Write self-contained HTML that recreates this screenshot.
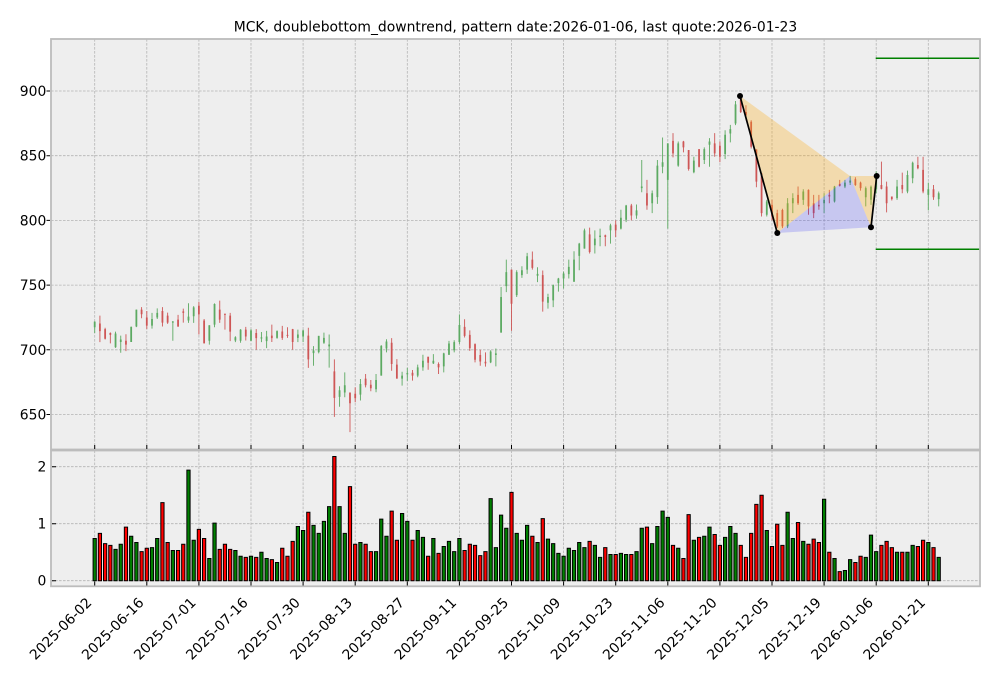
<!DOCTYPE html>
<html><head><meta charset="utf-8"><style>
html,body{margin:0;padding:0;background:#fff;}
svg{display:block;font-family:"DejaVu Sans","Liberation Sans",sans-serif;}
.ns{vector-effect:non-scaling-stroke;}
</style></head><body>
<svg width="1001" height="678" viewBox="0 0 1001 678" xmlns="http://www.w3.org/2000/svg">
<rect x="0" y="0" width="1001" height="678" fill="#fff"/>
<text x="515.5" y="31.5" font-size="13.9" text-anchor="middle" fill="#000">MCK, doublebottom_downtrend, pattern date:2026-01-06, last quote:2026-01-23</text>
<!-- axes backgrounds -->
<rect x="51" y="39" width="929" height="410.5" fill="#eeeeee"/>
<rect x="51" y="450.5" width="929" height="135.8" fill="#eeeeee"/>
<!-- grid -->
<g stroke="#b4b4b4" stroke-width="0.8" stroke-dasharray="2.6,1.4" fill="none">
<path d="M94.7 39V449.5M146.8 39V449.5M198.9 39V449.5M251 39V449.5M303.1 39V449.5M355.2 39V449.5M407.3 39V449.5M459.4 39V449.5M511.5 39V449.5M563.6 39V449.5M615.7 39V449.5M667.8 39V449.5M719.9 39V449.5M772 39V449.5M824.1 39V449.5M876.2 39V449.5M928.3 39V449.5"/>
<path d="M51 414.5H980M51 349.8H980M51 285.1H980M51 220.4H980M51 155.7H980M51 91H980"/>
<path d="M94.7 450.5V586.3M146.8 450.5V586.3M198.9 450.5V586.3M251 450.5V586.3M303.1 450.5V586.3M355.2 450.5V586.3M407.3 450.5V586.3M459.4 450.5V586.3M511.5 450.5V586.3M563.6 450.5V586.3M615.7 450.5V586.3M667.8 450.5V586.3M719.9 450.5V586.3M772 450.5V586.3M824.1 450.5V586.3M876.2 450.5V586.3M928.3 450.5V586.3"/>
<path d="M51 580.7H980M51 523.7H980M51 466.7H980"/>
</g>
<!-- candles -->
<g transform="matrix(5.21,0,0,-1.294,94.7,1255.6)" fill="none" stroke-linecap="butt">
<g stroke="rgb(92,170,98)">
<path class="ns" stroke-width="0.9" d="M0 713V722M4 701.5V714M5 697.7V711M7 706V718M8 717.5V731M11 716.4V728.5M12 723.8V732M15 707V722.3M18 720.8V736M19 720.8V733.8M22 704V719M23 717.4V735.9M27 705.9V710.5M28 705.4V716M30 706.7V716M32 705.9V713.8M33 701.3V714.6M35 708.5V715M39 705.9V715.6M40 705.9V715.6M42 687.7V702.8M43 697.2V710.8M44 704.6V713.3M45 686.2V711.8M47 656V671.8M48 663.3V682.6M51 660.8V677.4M54 667.2V681.3M55 680V703.6M56 698V708.2M59 672.3V683M60 676V686M62 678.8V688.5M63 683.8V696.2M65 689V696.7M67 682.6V697.7M68 696V706.9M69 698V707.4M70 704.6V727.4M76 689.7V699.7M77 687.2V701M78 713.3V748.5M79 744.6V769.7M81 740.8V761.5M82 755.6V764.6M83 758.7V774.9M85 752.3V763.8M87 731.8V743.3M88 733V750.5M89 745V755.6M90 747.4V760.3M91 755.1V769.7M92 752.6V776.2M93 761.5V782.6M94 778.2V793.6M96 774.4V792.3M97 780V793.6M99 782.1V797.4M101 793V808.2M102 798.7V812M104 801.3V812.3M105 821.8V846.7M107 805.6V823.1M108 812.8V846.7M109 836.4V864.1M110 793.6V859.5M112 841.5V861M115 836.4V849.2M117 843.6V856.4M118 841.5V863.6M121 847.4V869.7M122 860.3V873.8M123 873.6V892.3M129 803V815.9M133 794V817.2M134 805.6V821M136 812V824.1M140 805.6V821M142 813.8V826.7M144 824.9V831.3M145 827.4V834.4M148 810.8V826.2M149 812V827M150 821V838M154 815.9V831.3M156 821V838.5M157 828.7V845.4M160 807.7V829.2M162 810.8V822.3"/>
<path class="ns" stroke-width="1.8" d="M0 717.4V721.8M4 702V712.6M5 706V708M7 706V717.7M8 718V731M11 718.7V723.8M12 725V728.5M15 721V721.9M18 722.6V725.6M19 725.9V732.8M22 707V719M23 719.5V735.4M27 707.2V709.7M28 707V715.6M30 707V715M32 708.7V709.6M33 706.7V710.3M35 709.2V714.4M39 709.2V711.8M40 710.3V714.9M42 697.4V699.5M43 698.2V710.8M44 705.4V709.2M45 702.6V704.1M47 663.6V668.7M48 667V672.6M51 665.4V673.6M54 669.5V676.7M55 680V703M56 701V706.4M59 677.7V680M60 681V682M62 680V686.4M63 686.4V691.5M65 689.5V691.5M67 687.2V697.2M68 696.2V704.9M69 699.7V705.9M70 706V719.2M76 690.3V698.7M77 696V697.2M78 713.3V740.8M79 749.2V760M81 742.3V760M82 757.7V761.5M83 762V772.3M85 757.2V758.7M87 736.4V740.8M88 738.2V750M89 751.5V755.1M90 755.1V759M91 758.5V764.1M92 752.6V769.7M93 772.6V782.1M94 778.2V792.3M96 780.8V785.9M97 787.2V788.2M99 792.3V796.2M101 793.6V802M102 800.5V811.5M104 803.8V807.7M105 824.9V826.2M107 813.3V821M108 818V842.3M109 841.5V844.9M110 831.3V859.5M112 842.3V859.5M115 837.2V846.2M117 846.7V855.1M118 858.5V861M121 851.3V866.2M122 867.2V870.5M123 874.9V889.7M129 804.4V814.6M133 795.4V813.3M134 813.3V817.2M136 815.9V822.3M140 813.3V815.9M142 814.6V826.2M144 826.2V829.2M145 829.2V830.8M148 817.9V824.9M149 816V826M150 824V833M154 817.2V826.2M156 822.3V835.1M157 832.6V844.6M160 819.7V824.1M162 816.4V821"/>
</g>
<g stroke="rgb(206,86,86)">
<path class="ns" stroke-width="0.9" d="M1 705.9V726.4M2 708V717M3 705V713.5M6 699V712M9 724.4V733M10 716V730M13 718V733M14 720V728.7M16 717.7V727M17 721V731.8M20 711.8V737M21 705V723.8M24 720.8V738M25 715.6V728M26 706.7V728.5M29 707.2V717.7M31 700V716M34 706V719.5M36 707.7V718.5M37 709.2V717.4M38 700V716.2M41 686V717M46 648.2V692.6M49 636.4V667M50 659.5V671M52 671V681.3M53 668V676.7M57 683.8V709M58 677.7V692.8M61 676.2V684.4M64 684.6V694.6M66 681.3V690.3M71 709.5V723.6M72 699.2V715M73 690.3V705M74 687.7V700M75 687V698M80 714.6V762M84 762V776M86 729.5V761.3M95 774.4V794.4M98 780V789M100 787.2V800M103 800V812.8M106 808.2V831.3M111 848.7V867.4M113 852.6V861.5M114 838.5V854.4M116 841V855.1M119 849.2V867.4M120 844.9V861M124 883V895.9M125 877.4V889M126 855.6V877.4M127 825.6V854.9M128 803V836.4M130 800V816M131 794.1V808.2M132 794V809M135 812V826.2M137 804.4V824M138 801.8V819.7M139 808.2V819.7M141 813.3V823.6M143 826.2V831.3M146 826.7V833.3M147 823V830M151 824V845.4M152 806.2V830M153 815.4V818.5M155 821V836.9M158 839.5V849.2M159 821V849.2M161 815.9V827.4"/>
<path class="ns" stroke-width="1.8" d="M1 714.4V720.3M2 708.5V716M3 711.5V713M6 704V707M9 727.5V731M10 718.7V725M13 721V730M14 721V726.4M16 718V723.3M17 728.5V729.7M20 727.4V734M21 705V722.6M24 723.3V731M25 727V727.9M26 714V726.4M29 710.3V715.6M31 709V713M34 709V711M36 709.2V714.1M37 710.8V711.5M38 706V716M41 692.6V711M46 662.8V683.3M49 658.7V667M50 662.6V666M52 672.6V677.7M53 670.3V673M57 689V705.4M58 677.7V688.5M61 680V682.3M64 690V694.6M66 686.4V689M71 710.8V717.7M72 701.3V711.5M73 692.3V704.4M74 691V696M75 689.5V690.8M80 735.6V762M84 763.3V769.7M86 737.2V757.7M95 775.6V789.2M98 787.2V788.5M100 792.3V796.7M103 803.8V811.5M106 811.5V821M111 851.8V861.5M113 856.4V861M114 839.7V854.4M116 841.5V855.1M119 851.8V859.5M120 849.2V857.7M124 883.8V894.1M125 881.3V883.8M126 856.9V876.2M127 830V854.9M128 805.6V836.4M130 803V812M131 795.4V805.6M132 795.4V808M135 813.3V819.7M137 810.8V823.6M138 805.6V813.3M139 810.8V812M141 818.5V819.7M143 826.7V828.2M146 827.4V831.8M147 824.9V829.2M151 824.4V827.4M152 813.3V826.2M153 816.4V818.5M155 824.1V827.4M158 840.3V842.8M159 822.3V839M161 817.9V824.1"/>
</g>
</g>
<!-- pattern fills -->
<polygon points="740,96 850,176 777.3,233" fill="rgba(255,165,0,0.27)"/>
<polygon points="850,176 876.7,176 871,227.3" fill="rgba(255,165,0,0.27)"/>
<polygon points="777.3,233 850,176 871,227.3" fill="rgba(0,0,255,0.16)"/>
<g stroke="#000" stroke-width="1.7" fill="none">
<path d="M740 96L777.3 233M871 227.3L876.7 176"/>
</g>
<g fill="#000">
<circle cx="740" cy="96" r="3"/>
<circle cx="777.3" cy="233" r="3"/>
<circle cx="871" cy="227.3" r="3"/>
<circle cx="876.7" cy="176" r="3"/>
</g>
<g stroke="#008000" stroke-width="1.5">
<path d="M875.7 58.3H980M875.7 249.3H980"/>
</g>
<!-- volume -->
<g transform="matrix(5.21,0,0,-57,94.7,580.7) translate(-0.31,0)" stroke="#000">
<path class="ns" stroke-width="1" fill="#008000" d="M0 0h.62V.74h-.62zM4 0h.62V.55h-.62zM5 0h.62V.64h-.62zM7 0h.62V.78h-.62zM8 0h.62V.67h-.62zM11 0h.62V.58h-.62zM12 0h.62V.74h-.62zM15 0h.62V.53h-.62zM18 0h.62V1.94h-.62zM19 0h.62V.71h-.62zM22 0h.62V.39h-.62zM23 0h.62V1.01h-.62zM27 0h.62V.53h-.62zM28 0h.62V.43h-.62zM30 0h.62V.43h-.62zM32 0h.62V.5h-.62zM33 0h.62V.39h-.62zM35 0h.62V.32h-.62zM39 0h.62V.95h-.62zM40 0h.62V.88h-.62zM42 0h.62V.97h-.62zM43 0h.62V.83h-.62zM44 0h.62V1.04h-.62zM45 0h.62V1.3h-.62zM47 0h.62V1.3h-.62zM48 0h.62V.83h-.62zM51 0h.62V.67h-.62zM54 0h.62V.51h-.62zM55 0h.62V1.08h-.62zM56 0h.62V.78h-.62zM59 0h.62V1.18h-.62zM60 0h.62V1.04h-.62zM62 0h.62V.88h-.62zM63 0h.62V.76h-.62zM65 0h.62V.74h-.62zM67 0h.62V.6h-.62zM68 0h.62V.69h-.62zM69 0h.62V.51h-.62zM70 0h.62V.74h-.62zM76 0h.62V1.44h-.62zM77 0h.62V.58h-.62zM78 0h.62V1.15h-.62zM79 0h.62V.92h-.62zM81 0h.62V.83h-.62zM82 0h.62V.71h-.62zM83 0h.62V.97h-.62zM85 0h.62V.67h-.62zM87 0h.62V.73h-.62zM88 0h.62V.65h-.62zM89 0h.62V.48h-.62zM90 0h.62V.43h-.62zM91 0h.62V.57h-.62zM92 0h.62V.53h-.62zM93 0h.62V.67h-.62zM94 0h.62V.58h-.62zM96 0h.62V.62h-.62zM97 0h.62V.41h-.62zM99 0h.62V.46h-.62zM101 0h.62V.48h-.62zM102 0h.62V.46h-.62zM104 0h.62V.51h-.62zM105 0h.62V.92h-.62zM107 0h.62V.65h-.62zM108 0h.62V.95h-.62zM109 0h.62V1.22h-.62zM110 0h.62V1.11h-.62zM112 0h.62V.57h-.62zM115 0h.62V.71h-.62zM117 0h.62V.78h-.62zM118 0h.62V.94h-.62zM121 0h.62V.76h-.62zM122 0h.62V.95h-.62zM123 0h.62V.83h-.62zM129 0h.62V.88h-.62zM133 0h.62V1.2h-.62zM134 0h.62V.74h-.62zM136 0h.62V.69h-.62zM140 0h.62V1.43h-.62zM142 0h.62V.39h-.62zM144 0h.62V.18h-.62zM145 0h.62V.37h-.62zM148 0h.62V.41h-.62zM149 0h.62V.8h-.62zM150 0h.62V.51h-.62zM154 0h.62V.5h-.62zM156 0h.62V.5h-.62zM157 0h.62V.62h-.62zM160 0h.62V.67h-.62zM162 0h.62V.41h-.62z"/>
<path class="ns" stroke-width="1" fill="#ff0000" d="M1 0h.62V.83h-.62zM2 0h.62V.65h-.62zM3 0h.62V.62h-.62zM6 0h.62V.94h-.62zM9 0h.62V.51h-.62zM10 0h.62V.57h-.62zM13 0h.62V1.37h-.62zM14 0h.62V.67h-.62zM16 0h.62V.53h-.62zM17 0h.62V.64h-.62zM20 0h.62V.9h-.62zM21 0h.62V.74h-.62zM24 0h.62V.55h-.62zM25 0h.62V.64h-.62zM26 0h.62V.55h-.62zM29 0h.62V.41h-.62zM31 0h.62V.41h-.62zM34 0h.62V.37h-.62zM36 0h.62V.57h-.62zM37 0h.62V.43h-.62zM38 0h.62V.69h-.62zM41 0h.62V1.2h-.62zM46 0h.62V2.18h-.62zM49 0h.62V1.65h-.62zM50 0h.62V.64h-.62zM52 0h.62V.64h-.62zM53 0h.62V.51h-.62zM57 0h.62V1.22h-.62zM58 0h.62V.71h-.62zM61 0h.62V.71h-.62zM64 0h.62V.43h-.62zM66 0h.62V.48h-.62zM71 0h.62V.53h-.62zM72 0h.62V.64h-.62zM73 0h.62V.62h-.62zM74 0h.62V.44h-.62zM75 0h.62V.51h-.62zM80 0h.62V1.55h-.62zM84 0h.62V.78h-.62zM86 0h.62V1.09h-.62zM95 0h.62V.69h-.62zM98 0h.62V.58h-.62zM100 0h.62V.46h-.62zM103 0h.62V.46h-.62zM106 0h.62V.94h-.62zM111 0h.62V.62h-.62zM113 0h.62V.39h-.62zM114 0h.62V1.16h-.62zM116 0h.62V.76h-.62zM119 0h.62V.81h-.62zM120 0h.62V.62h-.62zM124 0h.62V.62h-.62zM125 0h.62V.41h-.62zM126 0h.62V.83h-.62zM127 0h.62V1.34h-.62zM128 0h.62V1.5h-.62zM130 0h.62V.6h-.62zM131 0h.62V.99h-.62zM132 0h.62V.62h-.62zM135 0h.62V1.02h-.62zM137 0h.62V.64h-.62zM138 0h.62V.73h-.62zM139 0h.62V.67h-.62zM141 0h.62V.5h-.62zM143 0h.62V.16h-.62zM146 0h.62V.32h-.62zM147 0h.62V.43h-.62zM151 0h.62V.62h-.62zM152 0h.62V.69h-.62zM153 0h.62V.58h-.62zM155 0h.62V.5h-.62zM158 0h.62V.6h-.62zM159 0h.62V.71h-.62zM161 0h.62V.58h-.62z"/>
</g>
<!-- axes borders -->
<rect x="51" y="39" width="929" height="410.5" fill="none" stroke="#bcbcbc" stroke-width="1.8"/>
<rect x="51" y="450.5" width="929" height="135.8" fill="none" stroke="#bcbcbc" stroke-width="1.8"/>
<!-- ticks -->
<g stroke="#000" stroke-width="1">
<path d="M94.7 449V445M146.8 449V445M198.9 449V445M251 449V445M303.1 449V445M355.2 449V445M407.3 449V445M459.4 449V445M511.5 449V445M563.6 449V445M615.7 449V445M667.8 449V445M719.9 449V445M772 449V445M824.1 449V445M876.2 449V445M928.3 449V445"/>
<path d="M94.7 585.5V581.5M146.8 585.5V581.5M198.9 585.5V581.5M251 585.5V581.5M303.1 585.5V581.5M355.2 585.5V581.5M407.3 585.5V581.5M459.4 585.5V581.5M511.5 585.5V581.5M563.6 585.5V581.5M615.7 585.5V581.5M667.8 585.5V581.5M719.9 585.5V581.5M772 585.5V581.5M824.1 585.5V581.5M876.2 585.5V581.5M928.3 585.5V581.5"/>
<path d="M46.5 414.5H50M46.5 349.8H50M46.5 285.1H50M46.5 220.4H50M46.5 155.7H50M46.5 91H50"/>
<path d="M52 580.7H56M52 523.7H56M52 466.7H56"/>
</g>
<!-- y labels -->
<g font-size="13.9" text-anchor="end" fill="#000">
<text x="46.3" y="419.5">650</text>
<text x="46.3" y="354.8">700</text>
<text x="46.3" y="290.1">750</text>
<text x="46.3" y="225.4">800</text>
<text x="46.3" y="160.7">850</text>
<text x="46.3" y="96">900</text>
<text x="46.3" y="585.7">0</text>
<text x="46.3" y="528.7">1</text>
<text x="46.3" y="471.7">2</text>
</g>
<!-- x labels -->
<g font-size="13.9" text-anchor="end" fill="#000">
<text transform="translate(92.5,603.5) rotate(-45)">2025-06-02</text>
<text transform="translate(144.6,603.5) rotate(-45)">2025-06-16</text>
<text transform="translate(196.7,603.5) rotate(-45)">2025-07-01</text>
<text transform="translate(248.8,603.5) rotate(-45)">2025-07-16</text>
<text transform="translate(300.9,603.5) rotate(-45)">2025-07-30</text>
<text transform="translate(353,603.5) rotate(-45)">2025-08-13</text>
<text transform="translate(405.1,603.5) rotate(-45)">2025-08-27</text>
<text transform="translate(457.2,603.5) rotate(-45)">2025-09-11</text>
<text transform="translate(509.3,603.5) rotate(-45)">2025-09-25</text>
<text transform="translate(561.4,603.5) rotate(-45)">2025-10-09</text>
<text transform="translate(613.5,603.5) rotate(-45)">2025-10-23</text>
<text transform="translate(665.6,603.5) rotate(-45)">2025-11-06</text>
<text transform="translate(717.7,603.5) rotate(-45)">2025-11-20</text>
<text transform="translate(769.8,603.5) rotate(-45)">2025-12-05</text>
<text transform="translate(821.9,603.5) rotate(-45)">2025-12-19</text>
<text transform="translate(874,603.5) rotate(-45)">2026-01-06</text>
<text transform="translate(926.1,603.5) rotate(-45)">2026-01-21</text>
</g>
</svg>
</body></html>
